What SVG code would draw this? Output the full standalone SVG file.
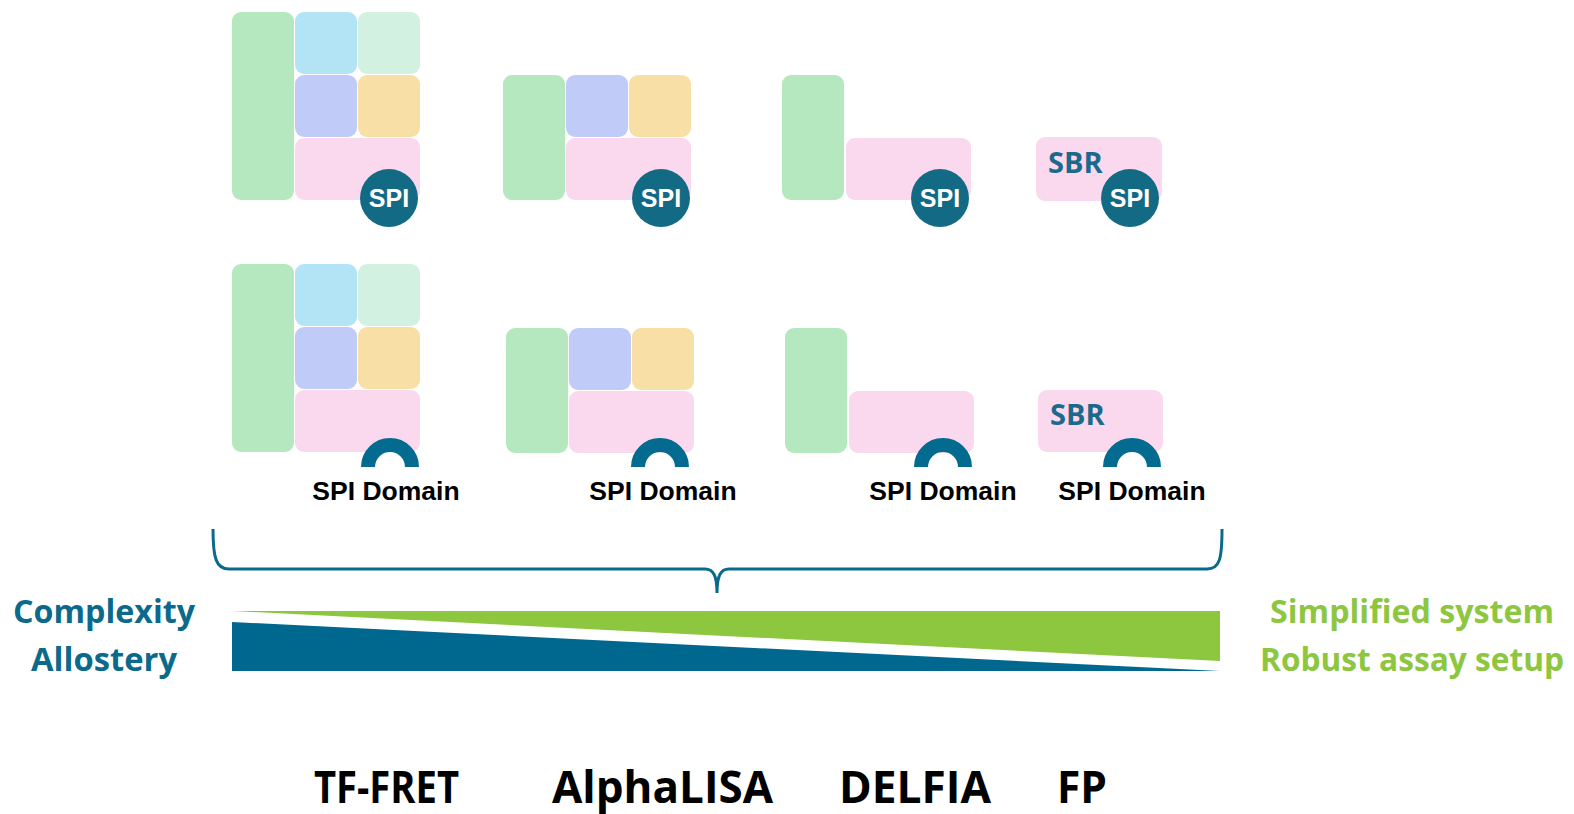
<svg xmlns="http://www.w3.org/2000/svg" width="1574" height="814" viewBox="0 0 1574 814">
<style>
.g{fill:#B5E8BE}.b{fill:#B2E4F5}.lg{fill:#D2F1E1}.pu{fill:#C0CCF7}.or{fill:#F7DFA5}.pk{fill:#FAD9EE}
.spi{fill:#136A85}
.spit{font-family:"Liberation Sans",Arial,sans-serif;font-weight:bold;font-size:25px;fill:#ffffff;text-anchor:middle}
.dom{font-family:"Liberation Sans",Arial,sans-serif;font-weight:bold;font-size:26.5px;fill:#000;text-anchor:middle}
.sbr{font-family:"Open Sans",sans-serif;font-weight:bold;font-size:29px;fill:#1B6A8C}
.arc{fill:none;stroke:#036A90;stroke-width:14}
.lbl{font-family:"Open Sans",sans-serif;font-weight:bold;font-size:33px;text-anchor:middle}
.meth{font-family:"Open Sans",sans-serif;font-weight:bold;font-size:44px;fill:#000}
</style>
<g id="top1">
<rect class="g" x="232" y="12" width="62" height="188" rx="9"/>
<rect class="b" x="295" y="12" width="62" height="62" rx="9"/>
<rect class="lg" x="358" y="12" width="62" height="62" rx="9"/>
<rect class="pu" x="295" y="75" width="62" height="62" rx="9"/>
<rect class="or" x="358" y="75" width="62" height="62" rx="9"/>
<rect class="pk" x="295" y="138" width="125" height="62" rx="9"/>
<circle class="spi" cx="389" cy="198" r="29"/>
<text class="spit" x="389" y="207">SPI</text>
</g>
<g id="top2">
<rect class="g" x="503" y="75" width="62" height="125" rx="9"/>
<rect class="pu" x="566" y="75" width="62" height="62" rx="9"/>
<rect class="or" x="629" y="75" width="62" height="62" rx="9"/>
<rect class="pk" x="566" y="138" width="125" height="62" rx="9"/>
<circle class="spi" cx="661" cy="198" r="29"/>
<text class="spit" x="661" y="207">SPI</text>
</g>
<g id="top3">
<rect class="g" x="782" y="75" width="62" height="125" rx="9"/>
<rect class="pk" x="846" y="138" width="125" height="62" rx="9"/>
<circle class="spi" cx="940" cy="198" r="29"/>
<text class="spit" x="940" y="207">SPI</text>
</g>
<g id="top4">
<rect class="pk" x="1036" y="137" width="126" height="64" rx="9"/>
<text class="sbr" x="1048" y="173">SBR</text>
<circle class="spi" cx="1130" cy="198" r="29"/>
<text class="spit" x="1130" y="207">SPI</text>
</g>
<g id="bot1">
<rect class="g" x="232" y="264" width="62" height="188" rx="9"/>
<rect class="b" x="295" y="264" width="62" height="62" rx="9"/>
<rect class="lg" x="358" y="264" width="62" height="62" rx="9"/>
<rect class="pu" x="295" y="327" width="62" height="62" rx="9"/>
<rect class="or" x="358" y="327" width="62" height="62" rx="9"/>
<rect class="pk" x="295" y="390" width="125" height="62" rx="9"/>
<path class="arc" d="M368,467 A22,22 0 0 1 412,467"/>
<text class="dom" x="386" y="500">SPI Domain</text>
</g>
<g id="bot2">
<rect class="g" x="506" y="328" width="62" height="125" rx="9"/>
<rect class="pu" x="569" y="328" width="62" height="62" rx="9"/>
<rect class="or" x="632" y="328" width="62" height="62" rx="9"/>
<rect class="pk" x="569" y="391" width="125" height="62" rx="9"/>
<path class="arc" d="M638,467 A22,22 0 0 1 682,467"/>
<text class="dom" x="663" y="500">SPI Domain</text>
</g>
<g id="bot3">
<rect class="g" x="785" y="328" width="62" height="125" rx="9"/>
<rect class="pk" x="849" y="391" width="125" height="62" rx="9"/>
<path class="arc" d="M921,467 A22,22 0 0 1 965,467"/>
<text class="dom" x="943" y="500">SPI Domain</text>
</g>
<g id="bot4">
<rect class="pk" x="1038" y="390" width="125" height="62" rx="9"/>
<text class="sbr" x="1050" y="425">SBR</text>
<path class="arc" d="M1110,467 A22,22 0 0 1 1154,467"/>
<text class="dom" x="1132" y="500">SPI Domain</text>
</g>
<g id="connectors">
<path d="M213,529 C213,558 216,569 229,569 L705,569 C713,569 717,575 717,593 C717,575 721,569 729,569 L1207,569 C1220,569 1222,558 1222,529" fill="none" stroke="#0A6A8E" stroke-width="3"/>
</g>
<g id="wedges">
<polygon points="232,611 1220,611 1220,661" fill="#8DC63F"/>
<polygon points="232,622 232,671 1220,671" fill="#00688F"/>
</g>
<g id="labels">
<text class="lbl" x="104" y="623" fill="#0B6A8C" textLength="182" lengthAdjust="spacingAndGlyphs">Complexity</text>
<text class="lbl" x="104" y="671" fill="#0B6A8C" textLength="146" lengthAdjust="spacingAndGlyphs">Allostery</text>
<text class="lbl" x="1412" y="623" fill="#8DC63F" textLength="284" lengthAdjust="spacingAndGlyphs">Simplified system</text>
<text class="lbl" x="1412" y="671" fill="#8DC63F" textLength="304" lengthAdjust="spacingAndGlyphs">Robust assay setup</text>
</g>
<g id="methods">
<text class="meth" x="314" y="803" textLength="145" lengthAdjust="spacingAndGlyphs">TF-FRET</text>
<text class="meth" x="552" y="803" textLength="221" lengthAdjust="spacingAndGlyphs">AlphaLISA</text>
<text class="meth" x="839" y="803" textLength="152" lengthAdjust="spacingAndGlyphs">DELFIA</text>
<text class="meth" x="1057" y="803" textLength="50" lengthAdjust="spacingAndGlyphs">FP</text>
</g>
</svg>
